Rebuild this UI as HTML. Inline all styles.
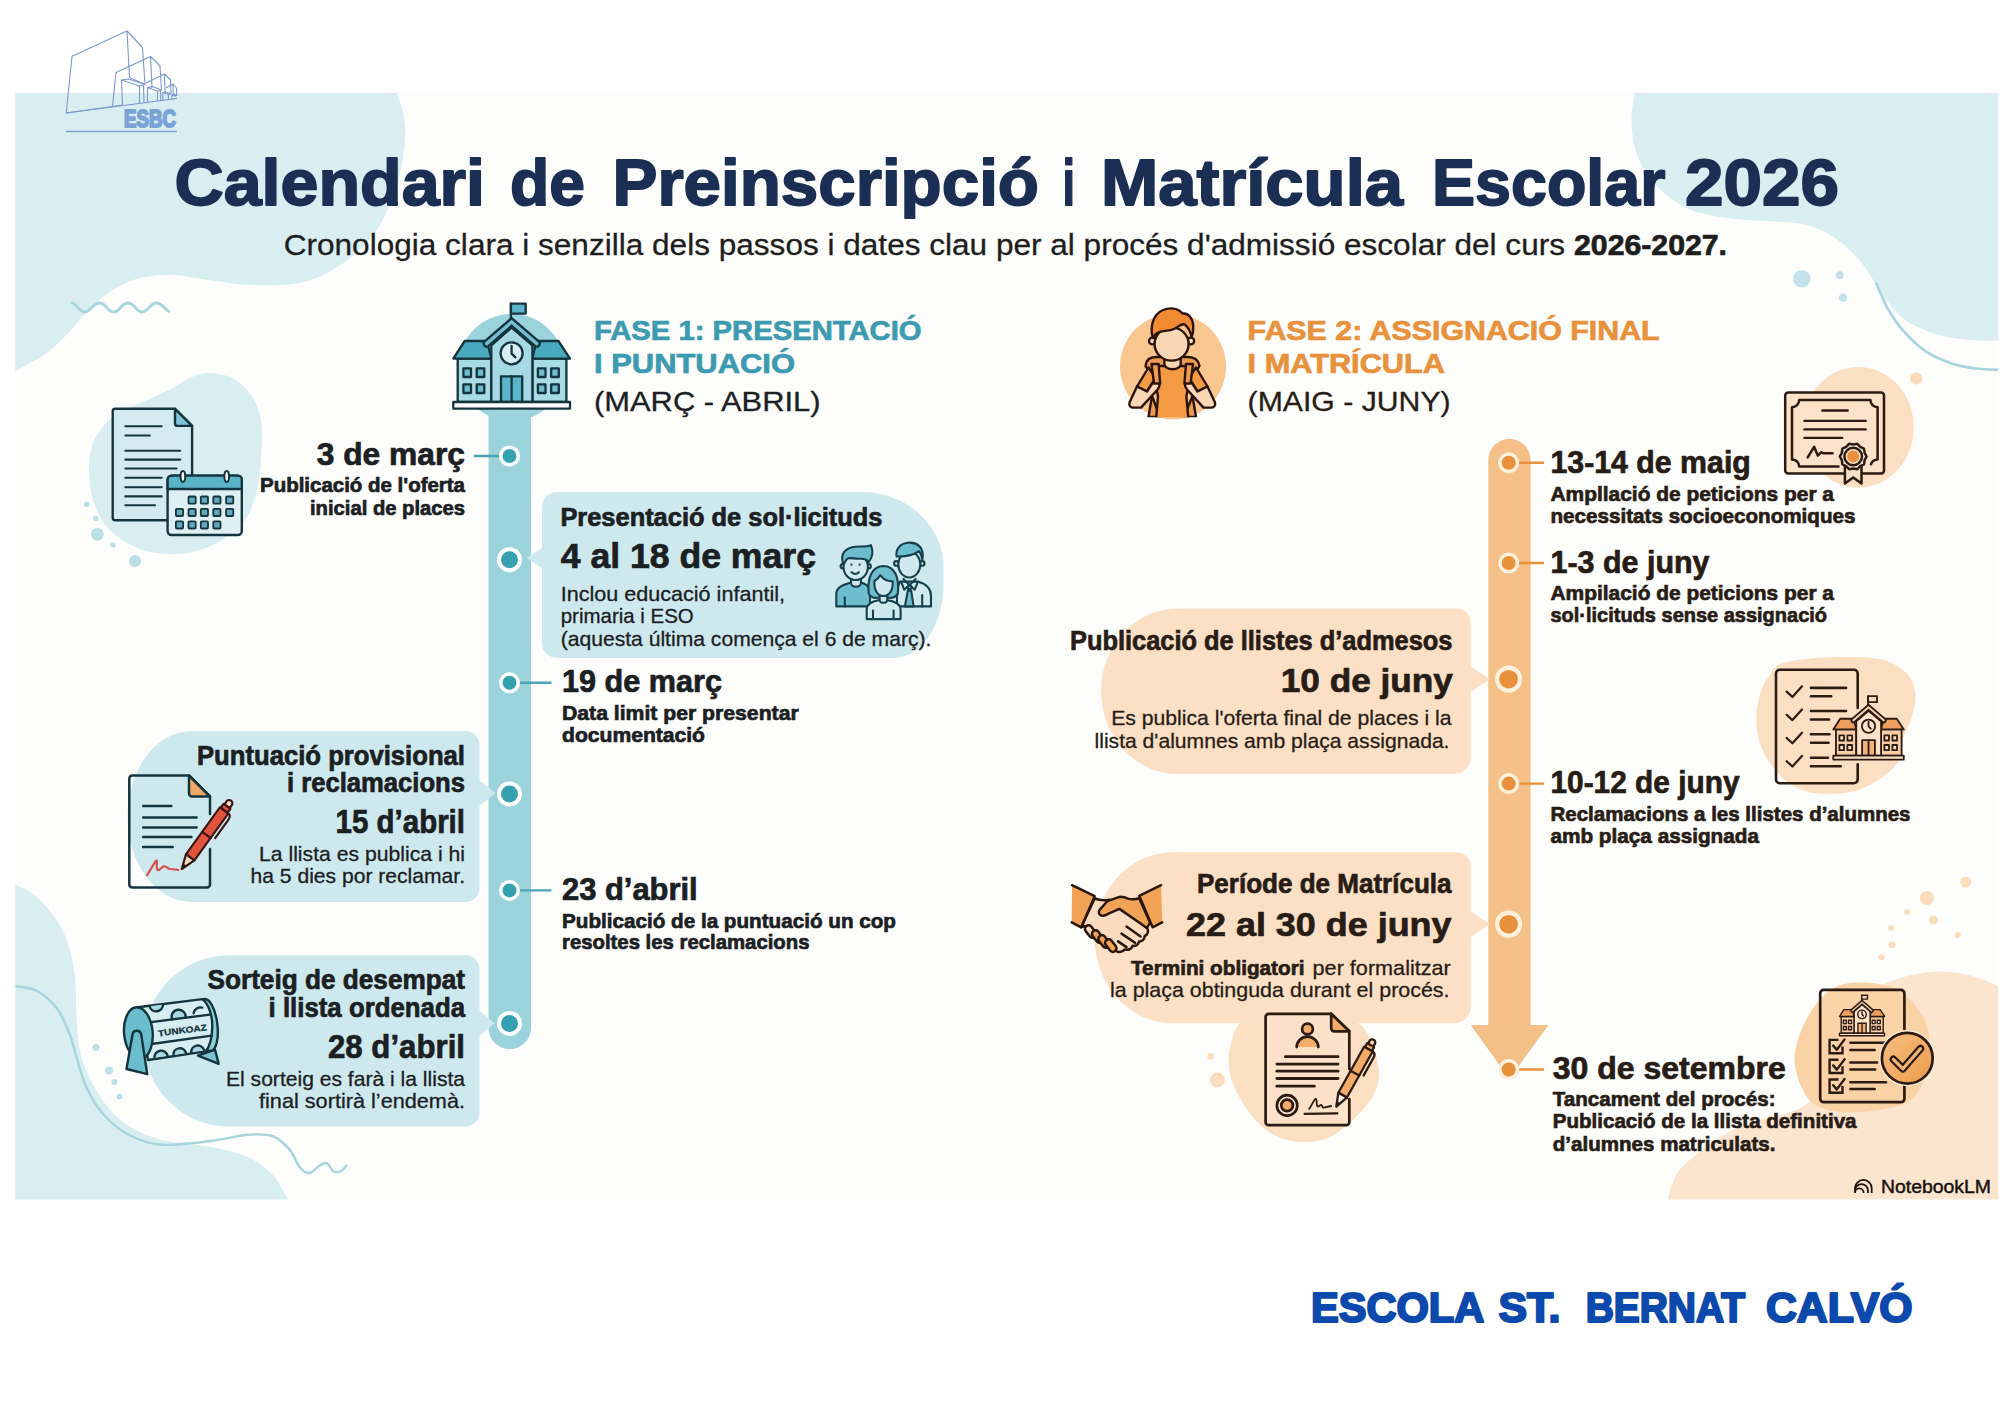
<!DOCTYPE html>
<html lang="ca">
<head>
<meta charset="utf-8">
<title>Calendari de Preinscripció i Matrícula Escolar 2026</title>
<style>
html,body{margin:0;padding:0;background:#ffffff;}
body{width:2000px;height:1414px;overflow:hidden;position:relative;}
svg{display:block;position:absolute;left:0;top:0;}
text{font-family:"Liberation Sans", "DejaVu Sans", sans-serif;}
.b{font-weight:700;}
</style>
</head>
<body>
<svg width="2000" height="1414" viewBox="0 0 2000 1414">
<defs><clipPath id="cp"><rect x="15.3" y="93" width="1982.9" height="1106.5"/></clipPath><linearGradient id="go" x1="0" y1="0" x2="1" y2="1"><stop offset="0" stop-color="#fce3c8"/><stop offset="1" stop-color="#f7c796"/></linearGradient></defs>
<g clip-path="url(#cp)">
<rect x="15.3" y="93" width="1982.9" height="1106.5" fill="#fdfdfb"/>

<path fill="#d8eef1" d="M396.0 80.0 C396.2 82.2 395.7 85.5 397.2 93.1 C398.7 100.6 404.6 112.4 405.2 125.3 C405.8 138.2 404.0 155.4 400.6 170.5 C397.2 185.6 391.2 203.0 384.8 215.8 C378.4 228.6 371.6 238.1 362.2 247.5 C352.8 256.9 339.5 266.4 328.2 272.4 C316.9 278.4 307.5 281.6 294.3 283.7 C281.1 285.8 264.1 285.6 249.0 284.8 C233.9 284.1 216.9 280.9 203.7 279.2 C190.5 277.5 181.1 274.7 169.8 274.7 C158.5 274.7 146.0 276.2 135.8 279.2 C125.6 282.2 116.9 287.1 108.6 292.8 C100.3 298.5 92.8 306.3 86.0 313.1 C79.2 319.9 74.7 326.7 67.9 333.5 C61.1 340.3 54.0 347.7 45.3 353.9 C36.5 360.1 22.9 366.9 15.4 370.9 C7.9 374.9 2.6 376.8 0.0 378.0 L0 80 Z"/>
<path fill="none" stroke="#a6d5dd" stroke-width="2.8" stroke-linecap="round" d="M72 303 C76 303 79 312 84.5 312 C91 312 93 303 99.6 303 C106 303 107.5 312 113.6 312 C120 312 121.5 303 127.9 303 C134.5 303 136 312 142 312 C148.5 312 150 303 156.2 303 C161.5 303 164 308 168.6 311.3"/>
<path fill="#d8eef1" d="M206.0 373.0 C213.3 372.8 224.5 374.4 232.0 378.0 C239.5 381.6 246.1 388.5 250.8 394.7 C255.5 400.9 258.1 407.6 260.0 415.0 C261.9 422.4 261.9 429.8 261.9 439.0 C261.9 448.2 261.1 460.1 260.0 470.0 C258.9 479.9 257.5 490.3 255.0 498.6 C252.5 506.9 249.4 513.8 245.0 520.0 C240.6 526.2 234.7 531.2 228.5 535.7 C222.3 540.2 215.4 544.0 208.0 547.0 C200.6 550.0 192.0 552.5 184.0 553.6 C176.0 554.7 167.4 554.3 160.0 553.5 C152.6 552.7 146.4 551.8 139.4 549.0 C132.4 546.2 124.2 541.7 118.0 537.0 C111.8 532.3 106.6 527.7 102.3 520.9 C98.0 514.1 94.2 504.6 92.0 496.0 C89.8 487.4 88.9 477.3 88.9 469.0 C88.9 460.7 89.8 452.9 92.0 446.0 C94.2 439.1 98.0 432.9 102.3 427.4 C106.6 421.9 111.8 417.0 118.0 413.0 C124.2 409.0 130.9 407.4 139.4 403.6 C147.9 399.8 160.9 394.1 169.0 390.0 C177.1 385.9 181.8 381.8 188.0 379.0 C194.2 376.2 198.7 373.2 206.0 373.0 Z"/>
<circle cx="86.7" cy="504.3" r="2.7" fill="#b9dfe7"/>
<circle cx="95.9" cy="518.4" r="2.7" fill="#b9dfe7"/>
<circle cx="97.4" cy="534.3" r="6.4" fill="#b9dfe7"/>
<circle cx="113" cy="545" r="2.6" fill="#b9dfe7"/>
<circle cx="135" cy="561" r="6" fill="#b9dfe7"/>
<path fill="#d8eef1" d="M15.3 884.8 C18.9 886.8 29.2 889.6 37.0 897.0 C44.8 904.4 55.8 916.9 62.0 929.3 C68.2 941.7 71.8 956.1 74.3 971.4 C76.8 986.7 75.5 1006.6 76.7 1021.0 C77.9 1035.4 78.0 1045.7 81.7 1058.0 C85.4 1070.3 92.0 1084.3 99.0 1095.0 C106.0 1105.7 113.5 1115.0 123.8 1122.4 C134.1 1129.9 146.6 1135.6 161.0 1139.7 C175.4 1143.8 196.0 1144.1 210.4 1147.0 C224.8 1149.9 237.2 1152.4 247.5 1157.0 C257.8 1161.6 265.5 1167.2 272.3 1174.4 C279.1 1181.6 285.7 1195.7 288.4 1200.0 L15 1200 L15 884 Z"/>
<path fill="none" stroke="#a6d4dc" stroke-width="2.4" stroke-linecap="round" d="M15.3 986.2 C18.9 987.0 30.1 987.3 37.0 991.0 C44.0 994.7 51.6 1001.5 57.0 1008.5 C62.4 1015.5 66.0 1025.0 69.3 1033.3 C72.6 1041.5 73.8 1048.9 76.7 1058.0 C79.6 1067.1 82.0 1078.2 86.6 1087.7 C91.1 1097.2 97.0 1107.2 104.0 1115.0 C111.0 1122.8 119.2 1129.8 128.7 1134.8 C138.2 1139.8 147.4 1143.7 161.0 1144.7 C174.6 1145.7 196.0 1142.7 210.4 1141.0 C224.8 1139.3 237.2 1135.6 247.5 1134.8 C257.8 1134.0 265.3 1133.5 272.3 1136.0 C279.3 1138.5 285.1 1144.4 289.6 1149.6 C294.1 1154.8 296.2 1163.1 299.5 1167.0 C302.8 1170.9 306.1 1173.2 309.4 1173.0 C312.7 1172.8 316.4 1167.3 319.3 1165.7 C322.2 1164.1 324.2 1162.2 326.7 1163.2 C329.2 1164.2 331.7 1170.8 334.2 1172.0 C336.7 1173.2 339.6 1171.6 341.6 1170.6 C343.7 1169.5 345.7 1166.5 346.5 1165.7"/>
<circle cx="96" cy="1047.6" r="3.5" fill="#b9dfe7"/>
<circle cx="109" cy="1070.4" r="4" fill="#b9dfe7"/>
<circle cx="114.4" cy="1082" r="3" fill="#b9dfe7"/>
<circle cx="119.6" cy="1096.6" r="3" fill="#b9dfe7"/>
<path fill="#d8eef1" d="M1636.0 80.0 C1635.7 82.2 1635.0 85.5 1634.3 93.1 C1633.6 100.6 1630.8 114.3 1631.6 125.3 C1632.3 136.3 1634.2 148.6 1638.8 159.2 C1643.4 169.8 1650.9 180.3 1659.2 188.6 C1667.5 196.9 1677.3 204.1 1688.6 209.0 C1699.9 213.9 1713.1 215.9 1727.1 218.0 C1741.1 220.1 1759.2 220.3 1772.4 221.4 C1785.6 222.5 1795.8 222.0 1806.3 224.8 C1816.8 227.6 1827.0 232.7 1835.7 238.4 C1844.4 244.1 1851.9 251.6 1858.3 258.8 C1864.7 266.0 1869.3 274.2 1874.2 281.4 C1879.1 288.6 1882.2 295.0 1887.8 301.8 C1893.4 308.6 1899.0 316.5 1908.1 322.1 C1917.1 327.8 1930.8 332.7 1942.1 335.7 C1953.4 338.7 1966.3 339.4 1976.0 340.2 C1985.7 341.0 1996.0 340.4 2000.0 340.4 L2000 80 Z"/>
<path fill="none" stroke="#a8d3df" stroke-width="2.7" stroke-linecap="round" d="M1876.4 283.7 C1878.3 287.9 1883.3 300.7 1887.8 308.6 C1892.3 316.5 1897.2 324.0 1903.6 331.2 C1910.0 338.4 1917.9 346.1 1926.2 351.6 C1934.5 357.1 1945.1 361.2 1953.4 364.0 C1961.7 366.8 1968.2 367.5 1976.0 368.5 C1983.8 369.5 1996.0 369.6 2000.0 369.8"/>
<circle cx="1801.8" cy="278.7" r="8.8" fill="#c3e2eb"/>
<circle cx="1839.8" cy="275.1" r="3.9" fill="#c3e2eb"/>
<circle cx="1843" cy="297.7" r="4.3" fill="#c3e2eb"/>
<circle cx="1173" cy="366.6" r="53" fill="#f9c690"/>
<ellipse cx="1858.3" cy="427.3" rx="55.4" ry="60.4" fill="#fbdfc3"/>
<circle cx="1916.4" cy="378.4" r="6.2" fill="#fbdbb8"/>
<path fill="#fbdfc2" d="M1781.8 663.5 C1788.9 661.0 1801.2 659.3 1813.6 658.2 C1826.0 657.1 1843.6 656.6 1856.0 657.1 C1868.4 657.6 1879.1 658.2 1887.9 661.4 C1896.8 664.6 1904.5 670.2 1909.1 676.2 C1913.7 682.2 1915.2 690.3 1915.5 697.4 C1915.8 704.5 1913.3 711.5 1911.2 718.6 C1909.1 725.7 1904.8 732.8 1902.7 739.9 C1900.6 747.0 1901.8 754.8 1898.5 761.0 C1895.2 767.2 1889.7 772.0 1882.6 777.0 C1875.5 782.0 1865.7 788.0 1856.0 790.8 C1846.3 793.6 1833.9 794.4 1824.2 794.0 C1814.5 793.6 1805.7 792.3 1797.7 788.6 C1789.8 784.9 1782.7 778.9 1776.5 771.7 C1770.3 764.5 1763.9 754.1 1760.6 745.2 C1757.2 736.4 1756.4 727.5 1756.4 718.6 C1756.4 709.8 1758.1 699.7 1760.6 692.1 C1763.1 684.5 1767.7 677.8 1771.2 673.0 C1774.7 668.2 1774.7 666.0 1781.8 663.5 Z"/>
<circle cx="1965.7" cy="882" r="5.5" fill="#fbdcbd"/>
<circle cx="1927" cy="898" r="7" fill="#fbdcbd"/>
<circle cx="1907" cy="912" r="3" fill="#fbdcbd"/>
<circle cx="1933.5" cy="920" r="4.5" fill="#fbdcbd"/>
<circle cx="1891" cy="928" r="3" fill="#fbdcbd"/>
<circle cx="1957.7" cy="935" r="3" fill="#fbdcbd"/>
<circle cx="1892" cy="944.8" r="3.5" fill="#fbdcbd"/>
<circle cx="1881.6" cy="957.2" r="3" fill="#fbdcbd"/>
<path fill="#fbe5cf" d="M2000 987 C1975 974 1950 969 1926 972.5 C1905 975 1885 982 1865 994 C1845 1008 1830 1040 1825 1070 C1822 1090 1815 1100 1800 1108 C1785 1116 1770 1116 1754.6 1121.4 C1735 1128 1720 1136 1706.8 1146.3 C1692 1158 1683 1165 1678 1172 C1672 1181 1670 1190 1668 1200 H2000 Z"/>
<path fill="#f9d2a6" d="M1859.6 982.5 C1848.5 982.5 1839.6 984.1 1831.0 989.7 C1822.4 995.4 1814.0 1005.6 1808.0 1016.4 C1802.0 1027.2 1795.7 1042.5 1794.7 1054.6 C1793.8 1066.7 1797.8 1080.1 1802.3 1089.0 C1806.8 1097.9 1811.9 1104.2 1821.4 1108.0 C1831.0 1111.8 1845.3 1112.9 1859.6 1111.9 C1873.9 1111.0 1896.2 1108.7 1907.4 1102.3 C1918.6 1095.9 1922.7 1083.2 1926.5 1073.7 C1930.3 1064.2 1930.6 1054.5 1930.0 1045.0 C1929.4 1035.5 1928.1 1025.6 1922.7 1016.4 C1917.3 1007.2 1908.3 995.4 1897.8 989.7 C1887.3 984.1 1870.7 982.5 1859.6 982.5 Z"/>
<path fill="#fbdfc3" d="M1245.2 1020.0 C1233.8 1026.0 1234.4 1033.7 1231.7 1040.9 C1229.0 1048.2 1228.4 1056.0 1228.8 1063.5 C1229.2 1071.0 1230.2 1077.7 1233.9 1086.2 C1237.6 1094.7 1244.3 1106.3 1250.9 1114.4 C1257.5 1122.5 1265.0 1130.2 1273.5 1134.8 C1282.0 1139.4 1292.4 1141.7 1301.8 1142.1 C1311.2 1142.5 1320.7 1141.7 1330.1 1137.1 C1339.5 1132.5 1350.9 1122.0 1358.4 1114.4 C1365.9 1106.9 1371.9 1099.3 1375.3 1091.8 C1378.7 1084.3 1379.3 1077.1 1378.7 1069.2 C1378.1 1061.3 1375.7 1052.2 1371.9 1044.3 C1368.1 1036.4 1368.1 1028.5 1356.1 1022.0 C1344.1 1015.5 1318.5 1005.3 1300.0 1005.0 C1281.5 1004.7 1256.6 1014.0 1245.2 1020.0 Z"/>
<circle cx="1210.7" cy="1056.2" r="3.2" fill="#fbdcbd"/>
<circle cx="1217.5" cy="1080" r="7.4" fill="#fbdcbd"/>
</g>
<circle cx="511.6" cy="367.5" r="53.5" fill="#9bd3dd"/>
<path fill="#9bd3dd" d="M488.5 362 H531 V1028 a21 21 0 0 1 -21 21 h-0.5 a21 21 0 0 1 -21 -21 Z"/>
<path fill="#cde9ee" d="M557 492 H862 a81.5 75 0 0 1 81.5 75 V584 a50 74 0 0 1 -50 74 H557 a15 15 0 0 1 -15 -15 V568 L526.6 558 L542 548 V507 a15 15 0 0 1 15 -15 Z"/>
<path fill="#cde9ee" d="M191.6 731 H465.5 a14 14 0 0 1 14 14 V780.5 L495.6 793 L479.5 805.8 V888 a14 14 0 0 1 -14 14 H191.6 a64 85.5 0 0 1 0 -171 Z"/>
<path fill="#cde9ee" d="M229.4 955.3 H465.5 a14 14 0 0 1 14 14 V1010.5 L494.6 1023.2 L479.5 1035.8 V1112.6 a14 14 0 0 1 -14 14 H229.4 a85.7 85.65 0 0 1 0 -171.3 Z"/>
<line x1="474" y1="456" x2="508" y2="456" stroke="#4ba3b6" stroke-width="2.4"/>
<line x1="510" y1="682.8" x2="551.5" y2="682.8" stroke="#4ba3b6" stroke-width="2.4"/>
<line x1="510" y1="890.4" x2="551.5" y2="890.4" stroke="#4ba3b6" stroke-width="2.4"/>
<circle cx="509.5" cy="456" r="10.5" fill="#ffffff"/><circle cx="509.5" cy="456" r="7" fill="#35a0b0"/>
<circle cx="509.5" cy="559.7" r="12.5" fill="#ffffff"/><circle cx="509.5" cy="559.7" r="8.5" fill="#35a0b0"/>
<circle cx="509.5" cy="682.8" r="10.5" fill="#ffffff"/><circle cx="509.5" cy="682.8" r="7" fill="#35a0b0"/>
<circle cx="509.5" cy="794" r="12.5" fill="#ffffff"/><circle cx="509.5" cy="794" r="8.5" fill="#35a0b0"/>
<circle cx="509.5" cy="890.4" r="10.5" fill="#ffffff"/><circle cx="509.5" cy="890.4" r="7" fill="#35a0b0"/>
<circle cx="509.5" cy="1023.4" r="12.5" fill="#ffffff"/><circle cx="509.5" cy="1023.4" r="8.5" fill="#35a0b0"/>
<path fill="#f5c088" d="M1488.3 460 a21.15 21.15 0 0 1 42.3 0 V1025 H1548.5 L1509.4 1079 L1470.7 1025 H1488.3 Z"/>
<path fill="#fce0c5" d="M1177.5 608.4 H1456.7 a14 14 0 0 1 14 14 V666.5 L1489.8 679.2 L1470.7 692 V758 a16 16 0 0 1 -16 16 H1177.5 a76.5 82.8 0 0 1 0 -165.6 Z"/>
<path fill="#fce0c5" d="M1172.4 852.3 H1456.7 a14 14 0 0 1 14 14 V911.5 L1489.8 924.2 L1470.7 937 V1007.2 a16 16 0 0 1 -16 16 H1172.4 a77.8 85.45 0 0 1 0 -170.9 Z"/>
<line x1="1509" y1="462.8" x2="1544" y2="462.8" stroke="#e8903a" stroke-width="2.4"/>
<line x1="1509" y1="563" x2="1544" y2="563" stroke="#e8903a" stroke-width="2.4"/>
<line x1="1509" y1="783.6" x2="1544" y2="783.6" stroke="#e8903a" stroke-width="2.4"/>
<line x1="1509" y1="1069.5" x2="1544" y2="1069.5" stroke="#e8903a" stroke-width="2.4"/>
<circle cx="1508.7" cy="462.8" r="10.5" fill="#fdf0dd"/><circle cx="1508.7" cy="462.8" r="7" fill="#e8903a"/>
<circle cx="1508.7" cy="563" r="10.5" fill="#fdf0dd"/><circle cx="1508.7" cy="563" r="7" fill="#e8903a"/>
<circle cx="1508.6" cy="679.2" r="13.6" fill="#fdf0dd"/><circle cx="1508.6" cy="679.2" r="9.3" fill="#e8903a"/>
<circle cx="1508.7" cy="783.6" r="10.5" fill="#fdf0dd"/><circle cx="1508.7" cy="783.6" r="7" fill="#e8903a"/>
<circle cx="1508.6" cy="924.2" r="13.6" fill="#fdf0dd"/><circle cx="1508.6" cy="924.2" r="9.3" fill="#e8903a"/>
<circle cx="1508.7" cy="1069.5" r="10.5" fill="#fdf0dd"/><circle cx="1508.7" cy="1069.5" r="7" fill="#e8903a"/>
<g transform="translate(453.3 302) scale(1) translate(-453.3 -302)"><rect x="457.7" y="358.6" width="33.6" height="43.4" fill="#a9dbe5" stroke="#14343e" stroke-width="2.3" stroke-linejoin="round" stroke-linecap="round"/><rect x="532.4" y="358.6" width="34" height="43.4" fill="#a9dbe5" stroke="#14343e" stroke-width="2.3" stroke-linejoin="round" stroke-linecap="round"/><polygon points="453.3,358.6 464.7,341 487,341 491.3,358.6" fill="#4aa9bf" stroke="#14343e" stroke-width="2.3" stroke-linejoin="round" stroke-linecap="round"/><polygon points="532.4,358.6 536.5,341 558.4,341 570,358.6" fill="#4aa9bf" stroke="#14343e" stroke-width="2.3" stroke-linejoin="round" stroke-linecap="round"/><polygon points="491.3,402 491.3,345.4 511.6,327.7 532.4,345.4 532.4,402" fill="#a6d9e4" stroke="#14343e" stroke-width="2.3" stroke-linejoin="round" stroke-linecap="round"/><line x1="510.9" y1="322" x2="510.9" y2="303.6" stroke="#14343e" stroke-width="2.3" stroke-linejoin="round" stroke-linecap="round"/><rect x="510.9" y="303.6" width="14.8" height="10" fill="#5ab3c7" stroke="#14343e" stroke-width="2.3" stroke-linejoin="round" stroke-linecap="round"/><polyline points="486.6,343.6 511.6,322 536.8,343.6" fill="none" stroke="#14343e" stroke-width="8.2" stroke-linejoin="miter" stroke-linecap="round"/><polyline points="486.6,343.6 511.6,322 536.8,343.6" fill="none" stroke="#74bfd0" stroke-width="3.4" stroke-linejoin="miter" stroke-linecap="round"/><circle cx="511.6" cy="353.3" r="11" fill="#d8eef3" stroke="#14343e" stroke-width="2.3" stroke-linejoin="round" stroke-linecap="round"/><polyline points="511.6,346 511.6,353.6 515.4,357.4" fill="none" stroke="#14343e" stroke-width="2.3" stroke-linejoin="round" stroke-linecap="round"/><rect x="501" y="376.3" width="21.2" height="25.7" fill="#5ab5c9" stroke="#14343e" stroke-width="2.3" stroke-linejoin="round" stroke-linecap="round"/><line x1="511.6" y1="376.3" x2="511.6" y2="402" stroke="#14343e" stroke-width="2.3" stroke-linejoin="round" stroke-linecap="round"/><rect x="463.4" y="368.4" width="7.6" height="8.6" fill="#6dbccc" stroke="#14343e" stroke-width="2.3" stroke-linejoin="round" stroke-linecap="round"/><rect x="463.4" y="384.4" width="7.6" height="8.6" fill="#6dbccc" stroke="#14343e" stroke-width="2.3" stroke-linejoin="round" stroke-linecap="round"/><rect x="476.7" y="368.4" width="7.6" height="8.6" fill="#6dbccc" stroke="#14343e" stroke-width="2.3" stroke-linejoin="round" stroke-linecap="round"/><rect x="476.7" y="384.4" width="7.6" height="8.6" fill="#6dbccc" stroke="#14343e" stroke-width="2.3" stroke-linejoin="round" stroke-linecap="round"/><rect x="537.9" y="368.4" width="7.6" height="8.6" fill="#6dbccc" stroke="#14343e" stroke-width="2.3" stroke-linejoin="round" stroke-linecap="round"/><rect x="537.9" y="384.4" width="7.6" height="8.6" fill="#6dbccc" stroke="#14343e" stroke-width="2.3" stroke-linejoin="round" stroke-linecap="round"/><rect x="551.2" y="368.4" width="7.6" height="8.6" fill="#6dbccc" stroke="#14343e" stroke-width="2.3" stroke-linejoin="round" stroke-linecap="round"/><rect x="551.2" y="384.4" width="7.6" height="8.6" fill="#6dbccc" stroke="#14343e" stroke-width="2.3" stroke-linejoin="round" stroke-linecap="round"/><rect x="453.3" y="402" width="116.7" height="6.6" fill="#ffffff" stroke="#14343e" stroke-width="2.3" stroke-linejoin="round" stroke-linecap="round"/></g>
<g><path d="M115.2 408.8 H175 L192.1 425.9 V517.7 a2.5 2.5 0 0 1 -2.5 2.5 H115.2 a2.5 2.5 0 0 1 -2.5 -2.5 V411.3 a2.5 2.5 0 0 1 2.5 -2.5 Z" fill="#d3ebf0" stroke="#14343e" stroke-width="2.4" stroke-linejoin="round" stroke-linecap="round"/><path d="M175 408.8 V423.4 a2.5 2.5 0 0 0 2.5 2.5 H192.1 Z" fill="#7fc4d4" stroke="#14343e" stroke-width="2.4" stroke-linejoin="round" stroke-linecap="round"/><line x1="125.3" y1="426.3" x2="161.7" y2="426.3" stroke="#14343e" stroke-width="2.1" stroke-linecap="round"/><line x1="125.3" y1="435.5" x2="149.8" y2="435.5" stroke="#14343e" stroke-width="2.1" stroke-linecap="round"/><line x1="125.3" y1="450.8" x2="180.2" y2="450.8" stroke="#14343e" stroke-width="2.1" stroke-linecap="round"/><line x1="125.3" y1="459.6" x2="180.2" y2="459.6" stroke="#14343e" stroke-width="2.1" stroke-linecap="round"/><line x1="125.3" y1="468.5" x2="176.5" y2="468.5" stroke="#14343e" stroke-width="2.1" stroke-linecap="round"/><line x1="125.3" y1="477.8" x2="161.7" y2="477.8" stroke="#14343e" stroke-width="2.1" stroke-linecap="round"/><line x1="125.3" y1="487.2" x2="161.7" y2="487.2" stroke="#14343e" stroke-width="2.1" stroke-linecap="round"/><line x1="125.3" y1="496.4" x2="161.7" y2="496.4" stroke="#14343e" stroke-width="2.1" stroke-linecap="round"/><line x1="125.3" y1="505.3" x2="155" y2="505.3" stroke="#14343e" stroke-width="2.1" stroke-linecap="round"/><rect x="167.6" y="475.6" width="74.2" height="59.4" rx="4" fill="#dff0f4" stroke="#14343e" stroke-width="2.4" stroke-linejoin="round" stroke-linecap="round"/><path d="M167.6 489 V479.6 a4 4 0 0 1 4 -4 H237.8 a4 4 0 0 1 4 4 V489 Z" fill="#5ab3c6" stroke="#14343e" stroke-width="2.4" stroke-linejoin="round" stroke-linecap="round"/><ellipse cx="182.9" cy="476.5" rx="2.3" ry="5.4" fill="#ffffff" stroke="#14343e" stroke-width="2"/><ellipse cx="226.7" cy="476.5" rx="2.3" ry="5.4" fill="#ffffff" stroke="#14343e" stroke-width="2"/><rect x="188.5" y="496.5" width="7.2" height="7.2" rx="1" fill="#62aaba" stroke="#14343e" stroke-width="1.8"/><rect x="200.8" y="496.5" width="7.2" height="7.2" rx="1" fill="#62aaba" stroke="#14343e" stroke-width="1.8"/><rect x="213.3" y="496.5" width="7.2" height="7.2" rx="1" fill="#62aaba" stroke="#14343e" stroke-width="1.8"/><rect x="226.1" y="496.5" width="7.2" height="7.2" rx="1" fill="#62aaba" stroke="#14343e" stroke-width="1.8"/><rect x="175.9" y="508.8" width="7.2" height="7.2" rx="1" fill="#62aaba" stroke="#14343e" stroke-width="1.8"/><rect x="188.5" y="508.8" width="7.2" height="7.2" rx="1" fill="#62aaba" stroke="#14343e" stroke-width="1.8"/><rect x="200.8" y="508.8" width="7.2" height="7.2" rx="1" fill="#62aaba" stroke="#14343e" stroke-width="1.8"/><rect x="213.3" y="508.8" width="7.2" height="7.2" rx="1" fill="#62aaba" stroke="#14343e" stroke-width="1.8"/><rect x="226.1" y="508.8" width="7.2" height="7.2" rx="1" fill="#62aaba" stroke="#14343e" stroke-width="1.8"/><rect x="175.9" y="521.3" width="7.2" height="7.2" rx="1" fill="#62aaba" stroke="#14343e" stroke-width="1.8"/><rect x="188.5" y="521.3" width="7.2" height="7.2" rx="1" fill="#62aaba" stroke="#14343e" stroke-width="1.8"/><rect x="200.8" y="521.3" width="7.2" height="7.2" rx="1" fill="#62aaba" stroke="#14343e" stroke-width="1.8"/><rect x="213.3" y="521.3" width="7.2" height="7.2" rx="1" fill="#62aaba" stroke="#14343e" stroke-width="1.8"/></g>
<g><path d="M836.3 606.4 V594 C836.3 588 841 585.5 851 582.6 L861 582.6 C866 584 868 586 870 589 V606.4 Z" fill="#6dbdce" stroke="#16404b" stroke-width="2.1" stroke-linejoin="round" stroke-linecap="round"/><line x1="844.8" y1="597.2" x2="844.8" y2="606.4" stroke="#16404b" stroke-width="2.1" stroke-linejoin="round" stroke-linecap="round"/><path d="M851 577 V583 a5 3.6 0 0 0 10 0 V577 Z" fill="#cfe9ee" stroke="#16404b" stroke-width="2.1" stroke-linejoin="round" stroke-linecap="round"/><circle cx="842.8" cy="566.2" r="2.2" fill="#cfe9ee" stroke="#16404b" stroke-width="2.1" stroke-linejoin="round" stroke-linecap="round"/><circle cx="868.6" cy="566.2" r="2.2" fill="#cfe9ee" stroke="#16404b" stroke-width="2.1" stroke-linejoin="round" stroke-linecap="round"/><ellipse cx="855.7" cy="567" rx="12.2" ry="13" fill="#cfe9ee" stroke="#16404b" stroke-width="2.1" stroke-linejoin="round" stroke-linecap="round"/><path d="M843.6 565 C840.5 557 842 550 852 547.2 C858 545.6 866 547.6 870.9 545.2 C873.5 551 872.5 557 868.8 562 C867 559.5 864 558.6 860 558.8 C855 559 851 557.6 848.3 558.3 C846 559 845 562 843.6 565 Z" fill="#6dbdce" stroke="#16404b" stroke-width="2.1" stroke-linejoin="round" stroke-linecap="round"/><circle cx="851.5" cy="564.7" r="1.1" fill="#16404b"/><circle cx="859.6" cy="564.7" r="1.1" fill="#16404b"/><path d="M851.5 572.2 Q855.2 575.8 858.9 572.2" fill="none" stroke="#16404b" stroke-width="2.1" stroke-linejoin="round" stroke-linecap="round"/><path d="M897 606.4 V589 L900 581.6 L918 581.6 C926 584 931 588.5 931 596 V606.4 Z" fill="#cfe9ee" stroke="#16404b" stroke-width="2.1" stroke-linejoin="round" stroke-linecap="round"/><line x1="922.2" y1="595" x2="922.2" y2="606.4" stroke="#16404b" stroke-width="2.1" stroke-linejoin="round" stroke-linecap="round"/><path d="M903.4 579 L909.5 585.2 L915.6 579" fill="none" stroke="#16404b" stroke-width="2.1" stroke-linejoin="round" stroke-linecap="round"/><path d="M901.2 581.8 L904.2 589.6 L909.5 585.2 L914.8 589.6 L917.8 581.8" fill="none" stroke="#16404b" stroke-width="2.1" stroke-linejoin="round" stroke-linecap="round"/><path d="M909.5 584.6 L912 587.3 L909.5 590 L907 587.3 Z" fill="#6dbdce" stroke="#16404b" stroke-width="2.1" stroke-linejoin="round" stroke-linecap="round"/><path d="M907.8 590.6 L904.9 606.4 H913.6 L911.2 590.6 Z" fill="#6dbdce" stroke="#16404b" stroke-width="2.1" stroke-linejoin="round" stroke-linecap="round"/><circle cx="896.4" cy="563.4" r="2.3" fill="#cfe9ee" stroke="#16404b" stroke-width="2.1" stroke-linejoin="round" stroke-linecap="round"/><circle cx="922.2" cy="563.4" r="2.3" fill="#cfe9ee" stroke="#16404b" stroke-width="2.1" stroke-linejoin="round" stroke-linecap="round"/><ellipse cx="909.3" cy="564.5" rx="11" ry="13" fill="#cfe9ee" stroke="#16404b" stroke-width="2.1" stroke-linejoin="round" stroke-linecap="round"/><path d="M896.6 556.5 C895.5 549 900 543.4 908 542.7 C917 542 922.6 547 922.8 555 L922.4 560 C921.5 556 920.5 553 919 551.2 C913 555.5 904 556.8 896.6 556.5 Z" fill="#6dbdce" stroke="#16404b" stroke-width="2.1" stroke-linejoin="round" stroke-linecap="round"/><path d="M868.8 594 C867 578 872 566.2 883.4 566 C895 566.2 899.6 578 897.8 594 C895 597.5 891 598.4 888 597.6 L878.6 597.6 C875 598.4 871 597.4 868.8 594 Z" fill="#6dbdce" stroke="#16404b" stroke-width="2.1" stroke-linejoin="round" stroke-linecap="round"/><path d="M866.7 619.1 V609.5 C866.7 604 871 601.6 879.6 600 L887 600 C896 601.6 900.6 604 900.6 609.5 V619.1 Z" fill="#cfe9ee" stroke="#16404b" stroke-width="2.1" stroke-linejoin="round" stroke-linecap="round"/><line x1="873" y1="610.6" x2="873" y2="619.1" stroke="#16404b" stroke-width="2.1" stroke-linejoin="round" stroke-linecap="round"/><line x1="893.6" y1="610.6" x2="893.6" y2="619.1" stroke="#16404b" stroke-width="2.1" stroke-linejoin="round" stroke-linecap="round"/><path d="M879.6 595.5 V600.2 a3.8 2.6 0 0 0 7.6 0 V595.5 Z" fill="#cfe9ee" stroke="#16404b" stroke-width="2.1" stroke-linejoin="round" stroke-linecap="round"/><path d="M874.5 581 C877 579.4 879 577.5 880.2 575.2 C883.5 579.6 888.5 581.6 892.6 581.2 C893.4 589.5 889.5 596 883.4 596 C877.5 596 873.6 589.5 874.5 581 Z" fill="#cfe9ee" stroke="#16404b" stroke-width="2.1" stroke-linejoin="round" stroke-linecap="round"/></g>
<g><path d="M210 814 V796.5 L189 775.5 H132.3 a3 3 0 0 0 -3 3 V884.6 a3 3 0 0 0 3 3 H207 a3 3 0 0 0 3 -3 V849" fill="none" stroke="#14343e" stroke-width="2.5" stroke-linejoin="round" stroke-linecap="round"/><path d="M189 775.5 V793.5 a3 3 0 0 0 3 3 H210 Z" fill="#f0a868" stroke="#14343e" stroke-width="2.5" stroke-linejoin="round" stroke-linecap="round"/><line x1="143.2" y1="806" x2="171.3" y2="806" stroke="#14343e" stroke-width="2.5" stroke-linecap="round"/><line x1="143.2" y1="817.5" x2="196.6" y2="817.5" stroke="#14343e" stroke-width="2.5" stroke-linecap="round"/><line x1="143.2" y1="827.5" x2="196.6" y2="827.5" stroke="#14343e" stroke-width="2.5" stroke-linecap="round"/><line x1="143.2" y1="837" x2="191.4" y2="837" stroke="#14343e" stroke-width="2.5" stroke-linecap="round"/><line x1="143.2" y1="847.1" x2="172.7" y2="847.1" stroke="#14343e" stroke-width="2.5" stroke-linecap="round"/><path d="M147 875.2 C150 871 154.5 862 156.3 860.6 C158 860 155.5 869 157.6 870 C160 870.6 162.5 865.6 164.8 866.2 C167 866.8 168 869 170.5 869 C173 869 175 869.6 178.5 870" fill="none" stroke="#d4524c" stroke-width="2.2" stroke-linecap="round" stroke-linejoin="round"/><g transform="translate(181.8 869) rotate(-54.19)"><path d="M72.3 5.2 C72.3 9.0 69.0 9.0 66.4 9.0 H44.6" fill="none" stroke="#3a1612" stroke-width="2.2" stroke-linejoin="round" stroke-linecap="round"/><path d="M77.4 -3.2 H81.0 a3.2 3.2 0 0 1 0 6.4 H77.4 Z" fill="#f6dcc6" stroke="#3a1612" stroke-width="2.2" stroke-linejoin="round" stroke-linecap="round"/><rect x="72.3" y="-4.3" width="5.0" height="8.5" fill="#e2533f" stroke="#3a1612" stroke-width="2.2" stroke-linejoin="round" stroke-linecap="round"/><rect x="14.3" y="-5.2" width="58.0" height="10.4" fill="#e2533f" stroke="#3a1612" stroke-width="2.2" stroke-linejoin="round" stroke-linecap="round"/><line x1="42.0" y1="-5.2" x2="42.0" y2="5.2" stroke="#3a1612" stroke-width="2.2" stroke-linejoin="round" stroke-linecap="round"/><path d="M14.3 -5.2 L0 0 L14.3 5.2 Z" fill="#f3dcc8" stroke="#3a1612" stroke-width="2.2" stroke-linejoin="round" stroke-linecap="round"/><path d="M5.4 -2.0 L0 0 L5.4 2.0 Z" fill="#3a1612" stroke="none"/></g></g>
<g><polygon points="197.9,1055.6 215,1049.6 218.7,1063.8" fill="#7cc4d3" stroke="#14343e" stroke-width="2.4" stroke-linejoin="round" stroke-linecap="round"/><ellipse cx="207.6" cy="1025" rx="9.8" ry="26.2" transform="rotate(-7 207.6 1025)" fill="#8fcdd9" stroke="#14343e" stroke-width="2.4" stroke-linejoin="round" stroke-linecap="round"/><path d="M137.7 1007.3 L202.3 999.1 C209 1004 212.5 1016 212.3 1027 C212 1038 209.6 1047 205.6 1051.4 L148.1 1060 Z" fill="#d6edf1" stroke="#14343e" stroke-width="2.4" stroke-linejoin="round" stroke-linecap="round"/><path d="M149.6 1006.2 a6.8 6.8 0 0 0 13.4 -1.6" fill="#a9d9e3" stroke="#14343e" stroke-width="2.4" stroke-linejoin="round" stroke-linecap="round"/><path d="M172.2 1019.4 a7 7 0 1 1 13.4 -1.8" fill="#a9d9e3" stroke="#14343e" stroke-width="2.4" stroke-linejoin="round" stroke-linecap="round"/><path d="M193.6 1013.2 a7 7 0 0 1 8.6 -5.6" fill="none" stroke="#14343e" stroke-width="2.4" stroke-linejoin="round" stroke-linecap="round"/><path d="M154.4 1057.8 a6.7 6.7 0 0 1 13.2 -2" fill="#a9d9e3" stroke="#14343e" stroke-width="2.4" stroke-linejoin="round" stroke-linecap="round"/><path d="M173.4 1055 a6.4 6.4 0 0 1 12.6 -1.9" fill="#a9d9e3" stroke="#14343e" stroke-width="2.4" stroke-linejoin="round" stroke-linecap="round"/><path d="M191.2 1052.3 a6.6 6.6 0 0 1 12.8 -2.4" fill="#a9d9e3" stroke="#14343e" stroke-width="2.4" stroke-linejoin="round" stroke-linecap="round"/><line x1="151.1" y1="1022.1" x2="209.8" y2="1014.6" stroke="#14343e" stroke-width="2.4" stroke-linejoin="round" stroke-linecap="round"/><line x1="153.3" y1="1043.7" x2="211.6" y2="1035.6" stroke="#14343e" stroke-width="2.4" stroke-linejoin="round" stroke-linecap="round"/><ellipse cx="138.4" cy="1033" rx="14.3" ry="25.8" transform="rotate(-5 138.4 1033)" fill="#6bbccd" stroke="#14343e" stroke-width="2.4" stroke-linejoin="round" stroke-linecap="round"/><path d="M126.5 1069 L132.6 1034 a4.4 4.4 0 0 1 8.6 0.4 L147.3 1074.2 Z" fill="#6bbccd" stroke="#14343e" stroke-width="2.4" stroke-linejoin="round" stroke-linecap="round"/></g>
<g><defs><clipPath id="stc"><rect x="1120" y="300" width="110" height="117.2"/></clipPath></defs><g clip-path="url(#stc)"><path d="M1145.5 366 C1146 360 1150 357 1156 357 H1188 C1194 357 1198.5 360 1199.5 366 L1196 372 H1149 Z" fill="#ee9a52" stroke="#2a140a" stroke-width="2.4" stroke-linejoin="round" stroke-linecap="round"/><path d="M1152 396 L1148.5 417 H1160 Z" fill="#ee9a52" stroke="#2a140a" stroke-width="2.4" stroke-linejoin="round" stroke-linecap="round"/><path d="M1192.5 396 L1196 417 H1184 Z" fill="#ee9a52" stroke="#2a140a" stroke-width="2.4" stroke-linejoin="round" stroke-linecap="round"/><path d="M1158 366 H1186.5 L1190 380 L1186.4 396 L1188.5 420 H1156 L1158 396 L1154.5 380 Z" fill="#f39a43" stroke="#2a140a" stroke-width="2.4" stroke-linejoin="round" stroke-linecap="round"/><path d="M1148.5 367.5 L1137 386.5 L1147 391.5 L1155.5 378 Z" fill="#f39a43" stroke="#2a140a" stroke-width="2.4" stroke-linejoin="round" stroke-linecap="round"/><path d="M1196 367.5 L1207.5 386.5 L1197.5 391.5 L1189 378 Z" fill="#f39a43" stroke="#2a140a" stroke-width="2.4" stroke-linejoin="round" stroke-linecap="round"/><path d="M1137 386.5 L1129.5 402.5 C1128.5 406 1131 408 1134 407.6 L1141 407.6 L1157.6 389.5 C1160.5 386 1160 382.5 1156.5 382 L1152.5 383 L1147 391.5 Z" fill="#f9d6b4" stroke="#2a140a" stroke-width="2.4" stroke-linejoin="round" stroke-linecap="round"/><path d="M1207.5 386.5 L1215 402.5 C1216 406 1213.5 408 1210.5 407.6 L1203.5 407.6 L1187 389.5 C1184 386 1184.5 382.5 1188 382 L1192 383 L1197.5 391.5 Z" fill="#f9d6b4" stroke="#2a140a" stroke-width="2.4" stroke-linejoin="round" stroke-linecap="round"/><path d="M1151.5 364 H1158.6 L1160.2 383.5 H1154 Z" fill="#ee9a52" stroke="#2a140a" stroke-width="2.4" stroke-linejoin="round" stroke-linecap="round"/><path d="M1193 364 H1186 L1184.4 383.5 H1190.6 Z" fill="#ee9a52" stroke="#2a140a" stroke-width="2.4" stroke-linejoin="round" stroke-linecap="round"/></g><path d="M1164.4 357 V364 a8.1 5.2 0 0 0 16.3 0 V357 Z" fill="#f9d6b4" stroke="#2a140a" stroke-width="2.4" stroke-linejoin="round" stroke-linecap="round"/><circle cx="1152.4" cy="341" r="3.4" fill="#f9d6b4" stroke="#2a140a" stroke-width="2.4" stroke-linejoin="round" stroke-linecap="round"/><circle cx="1190.8" cy="341" r="3.4" fill="#f9d6b4" stroke="#2a140a" stroke-width="2.4" stroke-linejoin="round" stroke-linecap="round"/><ellipse cx="1171.6" cy="344" rx="17" ry="16.6" fill="#f9d6b4" stroke="#2a140a" stroke-width="2.4" stroke-linejoin="round" stroke-linecap="round"/><path d="M1152.6 337.5 C1150 326 1153 314.5 1163 310 C1170 307 1178 308 1182.6 313.6 C1188.5 313 1192.5 318 1193.2 325.5 C1193.6 330 1193 334 1191.6 337.4 C1190.5 331.5 1188 327 1184.6 324.4 C1181.5 323.5 1179 326.5 1174 329 C1169 331.4 1163.5 330.4 1159.6 331.8 C1156 333 1154.4 335.5 1152.6 337.5 Z" fill="#f18a31" stroke="#2a140a" stroke-width="2.4" stroke-linejoin="round" stroke-linecap="round"/></g>
<g><rect x="1785.2" y="392.6" width="98.8" height="80.9" rx="3" fill="#fbe2c8" stroke="#2c1b12" stroke-width="2.5" stroke-linejoin="round" stroke-linecap="round"/><path d="M1838.5 466.6 H1799.2 a7.2 7.2 0 0 0 -7.2 -7.2 V407.2 a7.2 7.2 0 0 0 7.2 -7.2 H1870.3999999999999 a7.2 7.2 0 0 0 7.2 7.2 V459.40000000000003 a7.2 7.2 0 0 0 -6.6000000000000005 4.800000000000001" fill="none" stroke="#2c1b12" stroke-width="2.5" stroke-linejoin="round" stroke-linecap="round"/><line x1="1822.4" y1="410.5" x2="1847.7" y2="410.5" stroke="#2c1b12" stroke-width="2.4" stroke-linecap="round"/><line x1="1804.5" y1="420.9" x2="1865.6" y2="420.9" stroke="#2c1b12" stroke-width="2.4" stroke-linecap="round"/><line x1="1804.5" y1="429.4" x2="1865.6" y2="429.4" stroke="#2c1b12" stroke-width="2.4" stroke-linecap="round"/><line x1="1804.5" y1="437.9" x2="1842.2" y2="437.9" stroke="#2c1b12" stroke-width="2.4" stroke-linecap="round"/><path d="M1807.7 457.4 L1814.1 446.8 L1817.8 455.6 L1821.3 452.2 C1823 453.6 1824 453.4 1825.2 453.3 H1832.5" fill="none" stroke="#2c1b12" stroke-width="2.5" stroke-linejoin="round" stroke-linecap="round"/><path d="M1844.9 466 V483.6 L1853.2 477.6 L1861.5 483.6 V466 Z" fill="#f5e0c8" stroke="#2c1b12" stroke-width="2.5" stroke-linejoin="round" stroke-linecap="round"/><path d="M1866.6 456.5 L1864.6 460.2 L1864.0 464.4 L1860.3 466.2 L1857.3 469.2 L1853.2 468.5 L1849.1 469.2 L1846.1 466.2 L1842.4 464.4 L1841.8 460.2 L1839.8 456.5 L1841.8 452.8 L1842.4 448.6 L1846.1 446.8 L1849.1 443.8 L1853.2 444.5 L1857.3 443.8 L1860.3 446.8 L1864.0 448.6 L1864.6 452.8 Z" fill="#f5e0c8" stroke="#2c1b12" stroke-width="2.5" stroke-linejoin="round" stroke-linecap="round"/><circle cx="1853.2" cy="456.5" r="8.8" fill="#f5e0c8" stroke="#2c1b12" stroke-width="2.5" stroke-linejoin="round" stroke-linecap="round"/><circle cx="1853.2" cy="456.5" r="6" fill="#e9923e"/></g>
<g><path d="M1857.7 708 V673.6 a3.8 3.8 0 0 0 -3.8 -3.8 H1779.8 a3.8 3.8 0 0 0 -3.8 3.8 V779.5 a3.8 3.8 0 0 0 3.8 3.8 H1853.9 a3.8 3.8 0 0 0 3.8 -3.8 V764.2" fill="none" stroke="#2c1b12" stroke-width="2.6" stroke-linejoin="round" stroke-linecap="round"/><polyline points="1786.6,691.6 1792.4,696.9 1802,686.3" fill="none" stroke="#2c1b12" stroke-width="2.2" stroke-linecap="round" stroke-linejoin="round"/><polyline points="1786.6,714.8 1792.4,720.1 1802,709.5" fill="none" stroke="#2c1b12" stroke-width="2.2" stroke-linecap="round" stroke-linejoin="round"/><polyline points="1786.6,738.0 1792.4,743.3 1802,732.7" fill="none" stroke="#2c1b12" stroke-width="2.2" stroke-linecap="round" stroke-linejoin="round"/><polyline points="1786.6,761.2 1792.4,766.5 1802,755.9" fill="none" stroke="#2c1b12" stroke-width="2.2" stroke-linecap="round" stroke-linejoin="round"/><line x1="1811" y1="687.9" x2="1846" y2="687.9" stroke="#2c1b12" stroke-width="2.6" stroke-linecap="round"/><line x1="1811" y1="696.2" x2="1831.1" y2="696.2" stroke="#2c1b12" stroke-width="2.6" stroke-linecap="round"/><line x1="1811" y1="711" x2="1846" y2="711" stroke="#2c1b12" stroke-width="2.6" stroke-linecap="round"/><line x1="1811" y1="719.5" x2="1829" y2="719.5" stroke="#2c1b12" stroke-width="2.6" stroke-linecap="round"/><line x1="1811" y1="734.3" x2="1829.5" y2="734.3" stroke="#2c1b12" stroke-width="2.6" stroke-linecap="round"/><line x1="1811" y1="742.8" x2="1828.5" y2="742.8" stroke="#2c1b12" stroke-width="2.6" stroke-linecap="round"/><line x1="1811" y1="757.7" x2="1828" y2="757.7" stroke="#2c1b12" stroke-width="2.6" stroke-linecap="round"/><line x1="1811" y1="766.2" x2="1840.7" y2="766.2" stroke="#2c1b12" stroke-width="2.6" stroke-linecap="round"/><g transform="translate(1833.3 695.2) scale(0.604) translate(-453.3 -302)"><rect x="457.7" y="358.6" width="33.6" height="43.4" fill="#f6cda4" stroke="#2c1b12" stroke-width="3.0" stroke-linejoin="round" stroke-linecap="round"/><rect x="532.4" y="358.6" width="34" height="43.4" fill="#f6cda4" stroke="#2c1b12" stroke-width="3.0" stroke-linejoin="round" stroke-linecap="round"/><polygon points="453.3,358.6 464.7,341 487,341 491.3,358.6" fill="#ee9f5e" stroke="#2c1b12" stroke-width="3.0" stroke-linejoin="round" stroke-linecap="round"/><polygon points="532.4,358.6 536.5,341 558.4,341 570,358.6" fill="#ee9f5e" stroke="#2c1b12" stroke-width="3.0" stroke-linejoin="round" stroke-linecap="round"/><polygon points="491.3,402 491.3,345.4 511.6,327.7 532.4,345.4 532.4,402" fill="#fbe3c9" stroke="#2c1b12" stroke-width="3.0" stroke-linejoin="round" stroke-linecap="round"/><line x1="510.9" y1="322" x2="510.9" y2="303.6" stroke="#2c1b12" stroke-width="3.0" stroke-linejoin="round" stroke-linecap="round"/><rect x="510.9" y="303.6" width="14.8" height="10" fill="#f8d5b0" stroke="#2c1b12" stroke-width="3.0" stroke-linejoin="round" stroke-linecap="round"/><polyline points="486.6,343.6 511.6,322 536.8,343.6" fill="none" stroke="#2c1b12" stroke-width="9.6" stroke-linejoin="miter" stroke-linecap="round"/><polyline points="486.6,343.6 511.6,322 536.8,343.6" fill="none" stroke="#f7d3ae" stroke-width="3.4" stroke-linejoin="miter" stroke-linecap="round"/><circle cx="511.6" cy="353.3" r="11" fill="#fbe3c9" stroke="#2c1b12" stroke-width="3.0" stroke-linejoin="round" stroke-linecap="round"/><polyline points="511.6,346 511.6,353.6 515.4,357.4" fill="none" stroke="#2c1b12" stroke-width="3.0" stroke-linejoin="round" stroke-linecap="round"/><rect x="501" y="376.3" width="21.2" height="25.7" fill="#f1b27c" stroke="#2c1b12" stroke-width="3.0" stroke-linejoin="round" stroke-linecap="round"/><line x1="511.6" y1="376.3" x2="511.6" y2="402" stroke="#2c1b12" stroke-width="3.0" stroke-linejoin="round" stroke-linecap="round"/><rect x="463.4" y="368.4" width="7.6" height="8.6" fill="#fbe3c9" stroke="#2c1b12" stroke-width="3.0" stroke-linejoin="round" stroke-linecap="round"/><rect x="463.4" y="384.4" width="7.6" height="8.6" fill="#fbe3c9" stroke="#2c1b12" stroke-width="3.0" stroke-linejoin="round" stroke-linecap="round"/><rect x="476.7" y="368.4" width="7.6" height="8.6" fill="#fbe3c9" stroke="#2c1b12" stroke-width="3.0" stroke-linejoin="round" stroke-linecap="round"/><rect x="476.7" y="384.4" width="7.6" height="8.6" fill="#fbe3c9" stroke="#2c1b12" stroke-width="3.0" stroke-linejoin="round" stroke-linecap="round"/><rect x="537.9" y="368.4" width="7.6" height="8.6" fill="#fbe3c9" stroke="#2c1b12" stroke-width="3.0" stroke-linejoin="round" stroke-linecap="round"/><rect x="537.9" y="384.4" width="7.6" height="8.6" fill="#fbe3c9" stroke="#2c1b12" stroke-width="3.0" stroke-linejoin="round" stroke-linecap="round"/><rect x="551.2" y="368.4" width="7.6" height="8.6" fill="#fbe3c9" stroke="#2c1b12" stroke-width="3.0" stroke-linejoin="round" stroke-linecap="round"/><rect x="551.2" y="384.4" width="7.6" height="8.6" fill="#fbe3c9" stroke="#2c1b12" stroke-width="3.0" stroke-linejoin="round" stroke-linecap="round"/><rect x="453.3" y="402" width="116.7" height="6.6" fill="#fbe3c9" stroke="#2c1b12" stroke-width="3.0" stroke-linejoin="round" stroke-linecap="round"/></g></g>
<g><path d="M1094.7 898.5 C1100 900.5 1104 900.8 1109.5 899.7 L1121 908 L1147 928 C1149 931 1148 934.5 1144.6 936.2 C1144.6 939.5 1142 941.6 1139 941.4 C1138.6 944.6 1135.6 946.6 1132.6 945.8 C1131.5 949 1128 950.6 1124.8 949.4 C1122 952.6 1118 952.6 1115 950.4 L1084 926 L1081.2 927.3 Z" fill="#fbdcc0" stroke="#2a170c" stroke-width="2.5" stroke-linejoin="round" stroke-linecap="round"/><line x1="1126.5" y1="926.6" x2="1140.6" y2="936.5" stroke="#2a170c" stroke-width="2.5" stroke-linejoin="round" stroke-linecap="round"/><line x1="1121.5" y1="933.6" x2="1135" y2="942.8" stroke="#2a170c" stroke-width="2.5" stroke-linejoin="round" stroke-linecap="round"/><line x1="1118" y1="941.4" x2="1126.5" y2="947.1" stroke="#2a170c" stroke-width="2.5" stroke-linejoin="round" stroke-linecap="round"/><path d="M1139.2 898.3 C1135 899.6 1131.5 899.7 1128 898.6 C1124 896.8 1121 896.2 1118 897.4 C1113.5 899 1110.5 900 1107.5 901 L1099.8 909.6 C1098 912 1098.8 914.6 1101.4 915.6 C1104 916.4 1106.5 915 1108.6 913.6 L1119.4 908.9 L1147 928 L1150 922.5 Z" fill="#f2a356" stroke="#2a170c" stroke-width="2.5" stroke-linejoin="round" stroke-linecap="round"/><rect x="1083.6" y="928.0" width="14" height="7.2" rx="3.6" transform="rotate(52 1090.6 931.6)" fill="#fbdcc0" stroke="#2a170c" stroke-width="2.5" stroke-linejoin="round" stroke-linecap="round"/><rect x="1090.6" y="933.0" width="14" height="7.2" rx="3.6" transform="rotate(52 1097.6 936.6)" fill="#f2a356" stroke="#2a170c" stroke-width="2.5" stroke-linejoin="round" stroke-linecap="round"/><rect x="1097.0" y="937.9" width="14" height="7.2" rx="3.6" transform="rotate(52 1104 941.5)" fill="#f2a356" stroke="#2a170c" stroke-width="2.5" stroke-linejoin="round" stroke-linecap="round"/><rect x="1103.8" y="942.0" width="14" height="7.2" rx="3.6" transform="rotate(52 1110.8 945.6)" fill="#f2a356" stroke="#2a170c" stroke-width="2.5" stroke-linejoin="round" stroke-linecap="round"/><polygon points="1072,885.2 1094.7,896.2 1081.2,927.3 1071.7,922.3" fill="#f2a356"/><polyline points="1072,885.2 1094.7,896.2 1081.2,927.3 1071.7,922.3" fill="none" stroke="#2a170c" stroke-width="2.5" stroke-linejoin="round" stroke-linecap="round"/><polygon points="1161.1,885.2 1139.2,895.8 1152.6,927.3 1162.2,922.3" fill="#f2a356"/><polyline points="1161.1,885.2 1139.2,895.8 1152.6,927.3 1162.2,922.3" fill="none" stroke="#2a170c" stroke-width="2.5" stroke-linejoin="round" stroke-linecap="round"/></g>
<g><path d="M1349.3 1069 V1031.3 L1331.2 1013.8 H1268.6 a3 3 0 0 0 -3 3 V1122.2 a3 3 0 0 0 3 3 H1346.3 a3 3 0 0 0 3 -3 V1099" fill="#fbe2ca" fill-opacity="0.55" stroke="#2c1b12" stroke-width="2.7" stroke-linejoin="round" stroke-linecap="round"/><path d="M1331.2 1013.8 V1028.3 a3 3 0 0 0 3 3 H1349.3 Z" fill="#f2ac68" stroke="#2c1b12" stroke-width="2.7" stroke-linejoin="round" stroke-linecap="round"/><circle cx="1307.5" cy="1029" r="5.4" fill="#f2ac68" stroke="#2c1b12" stroke-width="2.7" stroke-linejoin="round" stroke-linecap="round"/><path d="M1296.7 1047.1 a10.8 10.4 0 0 1 21.6 0" fill="#f2ac68" stroke="#2c1b12" stroke-width="2.7" stroke-linejoin="round" stroke-linecap="round"/><line x1="1285.4" y1="1056.7" x2="1338" y2="1056.7" stroke="#2c1b12" stroke-width="2.8" stroke-linecap="round"/><line x1="1276.9" y1="1064.1" x2="1338" y2="1064.1" stroke="#2c1b12" stroke-width="2.8" stroke-linecap="round"/><line x1="1276.9" y1="1071.2" x2="1338" y2="1071.2" stroke="#2c1b12" stroke-width="2.8" stroke-linecap="round"/><line x1="1276.9" y1="1078.5" x2="1338" y2="1078.5" stroke="#2c1b12" stroke-width="2.8" stroke-linecap="round"/><line x1="1276.9" y1="1086.2" x2="1314.3" y2="1086.2" stroke="#2c1b12" stroke-width="2.8" stroke-linecap="round"/><circle cx="1287.1" cy="1105.4" r="10.2" fill="#fbe2ca" stroke="#2c1b12" stroke-width="2.7" stroke-linejoin="round" stroke-linecap="round"/><circle cx="1287.1" cy="1105.4" r="5.8" fill="#f2ac68" stroke="#2c1b12" stroke-width="2.7" stroke-linejoin="round" stroke-linecap="round"/><path d="M1309.2 1108.8 C1312 1105 1314 1099.5 1315.6 1098.8 C1317.4 1098.6 1316 1105.6 1317.6 1106.5 C1319 1107 1320 1104.6 1321.4 1105 C1322.6 1105.6 1322 1107.8 1323.6 1107.6 L1331.2 1106" fill="none" stroke="#2c1b12" stroke-width="1.8" stroke-linecap="round" stroke-linejoin="round"/><line x1="1304.6" y1="1113.9" x2="1337.4" y2="1113.3" stroke="#2c1b12" stroke-width="2.2" stroke-linecap="round"/><g transform="translate(1336.3 1106.5) rotate(-60.79)"><path d="M65.7 4.9 C65.7 8.7 62.7 8.7 60.4 8.7 H40.5" fill="none" stroke="#2c1b12" stroke-width="2.3" stroke-linejoin="round" stroke-linecap="round"/><path d="M70.3 -3.0 H73.5 a3.0 3.0 0 0 1 0 6.1 H70.3 Z" fill="#f7d6b6" stroke="#2c1b12" stroke-width="2.3" stroke-linejoin="round" stroke-linecap="round"/><rect x="65.7" y="-4.0" width="4.6" height="8.0" fill="#f2ac68" stroke="#2c1b12" stroke-width="2.3" stroke-linejoin="round" stroke-linecap="round"/><rect x="13.0" y="-4.9" width="52.7" height="9.8" fill="#f2ac68" stroke="#2c1b12" stroke-width="2.3" stroke-linejoin="round" stroke-linecap="round"/><line x1="38.2" y1="-4.9" x2="38.2" y2="4.9" stroke="#2c1b12" stroke-width="2.3" stroke-linejoin="round" stroke-linecap="round"/><path d="M13.0 -4.9 L0 0 L13.0 4.9 Z" fill="#fdf3e8" stroke="#2c1b12" stroke-width="2.3" stroke-linejoin="round" stroke-linecap="round"/><path d="M4.9 -1.9 L0 0 L4.9 1.9 Z" fill="#2c1b12" stroke="none"/></g></g>
<g><path d="M1904.4 1029 V993.4 a3.5 3.5 0 0 0 -3.5 -3.5 H1823.7 a3.5 3.5 0 0 0 -3.5 3.5 V1098.7 a3.5 3.5 0 0 0 3.5 3.5 H1900.9 a3.5 3.5 0 0 0 3.5 -3.5 V1086" fill="none" stroke="#2c1b12" stroke-width="2.7" stroke-linejoin="round" stroke-linecap="round"/><g transform="translate(1839.5 994.6) scale(0.3865) translate(-453.3 -302)"><rect x="457.7" y="358.6" width="33.6" height="43.4" fill="#f6cda4" stroke="#2c1b12" stroke-width="3.6" stroke-linejoin="round" stroke-linecap="round"/><rect x="532.4" y="358.6" width="34" height="43.4" fill="#f6cda4" stroke="#2c1b12" stroke-width="3.6" stroke-linejoin="round" stroke-linecap="round"/><polygon points="453.3,358.6 464.7,341 487,341 491.3,358.6" fill="#ee9f5e" stroke="#2c1b12" stroke-width="3.6" stroke-linejoin="round" stroke-linecap="round"/><polygon points="532.4,358.6 536.5,341 558.4,341 570,358.6" fill="#ee9f5e" stroke="#2c1b12" stroke-width="3.6" stroke-linejoin="round" stroke-linecap="round"/><polygon points="491.3,402 491.3,345.4 511.6,327.7 532.4,345.4 532.4,402" fill="#fbe3c9" stroke="#2c1b12" stroke-width="3.6" stroke-linejoin="round" stroke-linecap="round"/><line x1="510.9" y1="322" x2="510.9" y2="303.6" stroke="#2c1b12" stroke-width="3.6" stroke-linejoin="round" stroke-linecap="round"/><rect x="510.9" y="303.6" width="14.8" height="10" fill="#f8d5b0" stroke="#2c1b12" stroke-width="3.6" stroke-linejoin="round" stroke-linecap="round"/><polyline points="486.6,343.6 511.6,322 536.8,343.6" fill="none" stroke="#2c1b12" stroke-width="10.8" stroke-linejoin="miter" stroke-linecap="round"/><polyline points="486.6,343.6 511.6,322 536.8,343.6" fill="none" stroke="#f7d3ae" stroke-width="3.4" stroke-linejoin="miter" stroke-linecap="round"/><circle cx="511.6" cy="353.3" r="11" fill="#fbe3c9" stroke="#2c1b12" stroke-width="3.6" stroke-linejoin="round" stroke-linecap="round"/><polyline points="511.6,346 511.6,353.6 515.4,357.4" fill="none" stroke="#2c1b12" stroke-width="3.6" stroke-linejoin="round" stroke-linecap="round"/><rect x="501" y="376.3" width="21.2" height="25.7" fill="#f1b27c" stroke="#2c1b12" stroke-width="3.6" stroke-linejoin="round" stroke-linecap="round"/><line x1="511.6" y1="376.3" x2="511.6" y2="402" stroke="#2c1b12" stroke-width="3.6" stroke-linejoin="round" stroke-linecap="round"/><rect x="463.4" y="368.4" width="7.6" height="8.6" fill="#fbe3c9" stroke="#2c1b12" stroke-width="3.6" stroke-linejoin="round" stroke-linecap="round"/><rect x="463.4" y="384.4" width="7.6" height="8.6" fill="#fbe3c9" stroke="#2c1b12" stroke-width="3.6" stroke-linejoin="round" stroke-linecap="round"/><rect x="476.7" y="368.4" width="7.6" height="8.6" fill="#fbe3c9" stroke="#2c1b12" stroke-width="3.6" stroke-linejoin="round" stroke-linecap="round"/><rect x="476.7" y="384.4" width="7.6" height="8.6" fill="#fbe3c9" stroke="#2c1b12" stroke-width="3.6" stroke-linejoin="round" stroke-linecap="round"/><rect x="537.9" y="368.4" width="7.6" height="8.6" fill="#fbe3c9" stroke="#2c1b12" stroke-width="3.6" stroke-linejoin="round" stroke-linecap="round"/><rect x="537.9" y="384.4" width="7.6" height="8.6" fill="#fbe3c9" stroke="#2c1b12" stroke-width="3.6" stroke-linejoin="round" stroke-linecap="round"/><rect x="551.2" y="368.4" width="7.6" height="8.6" fill="#fbe3c9" stroke="#2c1b12" stroke-width="3.6" stroke-linejoin="round" stroke-linecap="round"/><rect x="551.2" y="384.4" width="7.6" height="8.6" fill="#fbe3c9" stroke="#2c1b12" stroke-width="3.6" stroke-linejoin="round" stroke-linecap="round"/><rect x="453.3" y="402" width="116.7" height="6.6" fill="#fbe3c9" stroke="#2c1b12" stroke-width="3.6" stroke-linejoin="round" stroke-linecap="round"/></g><path d="M1842.5 1046.5 V1053.2 H1829.6 V1039.9 H1838.5" fill="none" stroke="#2c1b12" stroke-width="2.4" stroke-linejoin="miter" stroke-linecap="butt"/><polyline points="1833.2,1045.6 1836.8,1049.8 1844.6,1039.4" fill="none" stroke="#2c1b12" stroke-width="2.4" stroke-linecap="round" stroke-linejoin="round"/><path d="M1842.5 1066.3 V1073.0 H1829.6 V1059.7 H1838.5" fill="none" stroke="#2c1b12" stroke-width="2.4" stroke-linejoin="miter" stroke-linecap="butt"/><polyline points="1833.2,1065.4 1836.8,1069.6 1844.6,1059.2" fill="none" stroke="#2c1b12" stroke-width="2.4" stroke-linecap="round" stroke-linejoin="round"/><path d="M1842.5 1086.1 V1092.8 H1829.6 V1079.5 H1838.5" fill="none" stroke="#2c1b12" stroke-width="2.4" stroke-linejoin="miter" stroke-linecap="butt"/><polyline points="1833.2,1085.2 1836.8,1089.4 1844.6,1079.0" fill="none" stroke="#2c1b12" stroke-width="2.4" stroke-linecap="round" stroke-linejoin="round"/><line x1="1850.4" y1="1042.8" x2="1884.1" y2="1042.8" stroke="#2c1b12" stroke-width="2.5" stroke-linecap="round"/><line x1="1850.4" y1="1050" x2="1874.7" y2="1050" stroke="#2c1b12" stroke-width="2.5" stroke-linecap="round"/><line x1="1850.4" y1="1062.6" x2="1877.1" y2="1062.6" stroke="#2c1b12" stroke-width="2.5" stroke-linecap="round"/><line x1="1850.4" y1="1069.6" x2="1875.1" y2="1069.6" stroke="#2c1b12" stroke-width="2.5" stroke-linecap="round"/><line x1="1850.4" y1="1082.2" x2="1886" y2="1082.2" stroke="#2c1b12" stroke-width="2.5" stroke-linecap="round"/><line x1="1850.4" y1="1088.9" x2="1874.7" y2="1088.9" stroke="#2c1b12" stroke-width="2.5" stroke-linecap="round"/><defs><linearGradient id="gck" x1="0" y1="0" x2="1" y2="1"><stop offset="0" stop-color="#f6bd80"/><stop offset="1" stop-color="#ee9c4a"/></linearGradient></defs><circle cx="1907.3" cy="1058.2" r="28" fill="#fdebd8"/><circle cx="1907.3" cy="1058.2" r="25.4" fill="url(#gck)" stroke="#2c1b12" stroke-width="2.7" stroke-linejoin="round" stroke-linecap="round"/><polyline points="1893.4,1059.4 1902.9,1068.8 1920.5,1048.6" fill="none" stroke="#2c1b12" stroke-width="7.6" stroke-linecap="round" stroke-linejoin="round"/><polyline points="1893.4,1059.4 1902.9,1068.8 1920.5,1048.6" fill="none" stroke="#f4b475" stroke-width="3.2" stroke-linecap="round" stroke-linejoin="round"/></g>
<g fill="none" stroke="#1a120c" stroke-width="1.75" stroke-linecap="butt"><path d="M1855.1 1192.9 V1188.2 A8.3 8.3 0 0 1 1871.7 1188.2 V1192.9"/><path d="M1855.1 1190.5 A6.4 6.4 0 0 1 1867.9 1190.5 V1192.9"/><path d="M1855.1 1192.6 A4.25 4.25 0 0 1 1863.6 1192.6 V1192.9"/></g>
<g><polygon points="72,56.2 127,31 129.5,77.5 145,84.5 139.5,86 121.5,80 122.5,105 66.2,113" fill="none" stroke="#7b98cf" stroke-width="1.1" stroke-linejoin="round"/><polyline points="127,31 142.5,47.5 145,84.5" fill="none" stroke="#7b98cf" stroke-width="1.1" stroke-linejoin="round"/><polyline points="66.2,113 177,98.5" fill="none" stroke="#7b98cf" stroke-width="1.1" stroke-linejoin="round"/><polyline points="121.5,80 128.5,79 145,84.5" fill="none" stroke="#7b98cf" stroke-width="1.1" stroke-linejoin="round"/><polyline points="139.5,86 139.5,103" fill="none" stroke="#7b98cf" stroke-width="1.1" stroke-linejoin="round"/><polyline points="143.5,85.4 144,102.6" fill="none" stroke="#7b98cf" stroke-width="1.1" stroke-linejoin="round"/><polyline points="112.5,106.5 116,72.5 150.5,56.5 160,66 161.5,90" fill="none" stroke="#7b98cf" stroke-width="1.1" stroke-linejoin="round"/><polyline points="150.5,56.5 152,87.5" fill="none" stroke="#7b98cf" stroke-width="1.1" stroke-linejoin="round"/><polyline points="147.5,102.4 147.5,87.6 152.5,86.6 161.5,90 157.5,91.2 147.5,87.6" fill="none" stroke="#7b98cf" stroke-width="1.1" stroke-linejoin="round"/><polyline points="157.5,91.2 157.5,101" fill="none" stroke="#7b98cf" stroke-width="1.1" stroke-linejoin="round"/><polyline points="160.6,90.4 160.8,100.6" fill="none" stroke="#7b98cf" stroke-width="1.1" stroke-linejoin="round"/><polyline points="146,83 164.5,74 170.5,80 171,93" fill="none" stroke="#7b98cf" stroke-width="1.1" stroke-linejoin="round"/><polyline points="164.5,74 165,92.4" fill="none" stroke="#7b98cf" stroke-width="1.1" stroke-linejoin="round"/><polyline points="162.8,100.4 162.8,92.6 165.4,92 171,93.6 168.4,94.4 162.8,92.6" fill="none" stroke="#7b98cf" stroke-width="1.1" stroke-linejoin="round"/><polyline points="168.4,94.4 168.4,99.6" fill="none" stroke="#7b98cf" stroke-width="1.1" stroke-linejoin="round"/><polyline points="166,88 173,84 176.5,88 176.8,95.4" fill="none" stroke="#7b98cf" stroke-width="1.1" stroke-linejoin="round"/><polyline points="173,84 173.2,94.6" fill="none" stroke="#7b98cf" stroke-width="1.1" stroke-linejoin="round"/><polyline points="172,99.2 172,94.8 173.4,94.4 176.8,95.4 175.2,96 172,94.8" fill="none" stroke="#7b98cf" stroke-width="1.1" stroke-linejoin="round"/><line x1="66" y1="131.5" x2="177" y2="131.5" stroke="#7aa3d6" stroke-width="1.4"/></g>
<text x="174.5" y="204.5" font-size="65" fill="#1b2f55" class="b" textLength="310.5" lengthAdjust="spacingAndGlyphs" stroke="#1b2f55" stroke-width="1.8" stroke-linejoin="round">Calendari</text>
<text x="510.0" y="204.5" font-size="65" fill="#1b2f55" class="b" textLength="75.0" lengthAdjust="spacingAndGlyphs" stroke="#1b2f55" stroke-width="1.8" stroke-linejoin="round">de</text>
<text x="612.5" y="204.5" font-size="65" fill="#1b2f55" class="b" textLength="426.5" lengthAdjust="spacingAndGlyphs" stroke="#1b2f55" stroke-width="1.8" stroke-linejoin="round">Preinscripció</text>
<text x="1062.5" y="204.5" font-size="65" fill="#1b2f55" class="b" textLength="12.5" lengthAdjust="spacingAndGlyphs" stroke="#1b2f55" stroke-width="1.8" stroke-linejoin="round">i</text>
<text x="1101.0" y="204.5" font-size="65" fill="#1b2f55" class="b" textLength="302.0" lengthAdjust="spacingAndGlyphs" stroke="#1b2f55" stroke-width="1.8" stroke-linejoin="round">Matrícula</text>
<text x="1432.0" y="204.5" font-size="65" fill="#1b2f55" class="b" textLength="233.3" lengthAdjust="spacingAndGlyphs" stroke="#1b2f55" stroke-width="1.8" stroke-linejoin="round">Escolar</text>
<text x="1685.0" y="204.5" font-size="65" fill="#1b2f55" class="b" textLength="154.0" lengthAdjust="spacingAndGlyphs" stroke="#1b2f55" stroke-width="1.8" stroke-linejoin="round">2026</text>
<text x="283.7" y="255.0" font-size="29" fill="#1e1e1e" textLength="1281.3" lengthAdjust="spacingAndGlyphs" stroke="#1e1e1e" stroke-width="0.3">Cronologia clara i senzilla dels passos i dates clau per al procés d'admissió escolar del curs</text>
<text x="1574.0" y="255.0" font-size="29" fill="#1e1e1e" class="b" textLength="153.0" lengthAdjust="spacingAndGlyphs" stroke="#1e1e1e" stroke-width="0.7">2026-2027.</text>
<text x="594.0" y="340.0" font-size="27.2" fill="#3c9bb0" class="b" textLength="327.6" lengthAdjust="spacingAndGlyphs" stroke="#3c9bb0" stroke-width="0.7">FASE 1: PRESENTACIÓ</text>
<text x="594.0" y="373.0" font-size="27.2" fill="#3c9bb0" class="b" textLength="201.0" lengthAdjust="spacingAndGlyphs" stroke="#3c9bb0" stroke-width="0.7">I PUNTUACIÓ</text>
<text x="594.0" y="411.0" font-size="27.2" fill="#1b2023" textLength="226.5" lengthAdjust="spacingAndGlyphs" stroke="#1b2023" stroke-width="0.3">(MARÇ - ABRIL)</text>
<text x="1247.6" y="340.0" font-size="27.2" fill="#e8923d" class="b" textLength="412.0" lengthAdjust="spacingAndGlyphs" stroke="#e8923d" stroke-width="0.7">FASE 2: ASSIGNACIÓ FINAL</text>
<text x="1247.6" y="373.0" font-size="27.2" fill="#e8923d" class="b" textLength="197.4" lengthAdjust="spacingAndGlyphs" stroke="#e8923d" stroke-width="0.7">I MATRÍCULA</text>
<text x="1247.6" y="411.0" font-size="27.2" fill="#281d16" textLength="203.0" lengthAdjust="spacingAndGlyphs" stroke="#281d16" stroke-width="0.3">(MAIG - JUNY)</text>
<text x="316.7" y="465.0" font-size="30.5" fill="#1b2023" class="b" textLength="148.3" lengthAdjust="spacingAndGlyphs" stroke="#1b2023" stroke-width="0.7">3 de març</text>
<text x="260.0" y="492.0" font-size="21" fill="#1b2023" class="b" textLength="205.0" lengthAdjust="spacingAndGlyphs" stroke="#1b2023" stroke-width="0.7">Publicació de l'oferta</text>
<text x="310.0" y="514.7" font-size="21" fill="#1b2023" class="b" textLength="155.0" lengthAdjust="spacingAndGlyphs" stroke="#1b2023" stroke-width="0.7">inicial de places</text>
<text x="560.4" y="525.5" font-size="26" fill="#1b2023" class="b" textLength="322.0" lengthAdjust="spacingAndGlyphs" stroke="#1b2023" stroke-width="0.7">Presentació de sol·licituds</text>
<text x="560.7" y="568.2" font-size="34.6" fill="#1b2023" class="b" textLength="255.3" lengthAdjust="spacingAndGlyphs" stroke="#1b2023" stroke-width="0.7">4 al 18 de març</text>
<text x="560.7" y="600.8" font-size="20.8" fill="#1b2023" textLength="224.3" lengthAdjust="spacingAndGlyphs" stroke="#1b2023" stroke-width="0.3">Inclou educació infantil,</text>
<text x="560.7" y="623.3" font-size="20.8" fill="#1b2023" textLength="133.1" lengthAdjust="spacingAndGlyphs" stroke="#1b2023" stroke-width="0.3">primaria i ESO</text>
<text x="560.7" y="646.0" font-size="20.8" fill="#1b2023" textLength="370.7" lengthAdjust="spacingAndGlyphs" stroke="#1b2023" stroke-width="0.3">(aquesta última comença el 6 de març).</text>
<text x="562.0" y="692.0" font-size="30.5" fill="#1b2023" class="b" textLength="160.0" lengthAdjust="spacingAndGlyphs" stroke="#1b2023" stroke-width="0.7">19 de març</text>
<text x="562.0" y="720.0" font-size="21" fill="#1b2023" class="b" textLength="236.7" lengthAdjust="spacingAndGlyphs" stroke="#1b2023" stroke-width="0.7">Data limit per presentar</text>
<text x="562.0" y="741.7" font-size="21" fill="#1b2023" class="b" textLength="143.0" lengthAdjust="spacingAndGlyphs" stroke="#1b2023" stroke-width="0.7">documentació</text>
<text x="197.0" y="764.5" font-size="27" fill="#1b2023" class="b" textLength="268.0" lengthAdjust="spacingAndGlyphs" stroke="#1b2023" stroke-width="0.7">Puntuació provisional</text>
<text x="287.0" y="792.4" font-size="27" fill="#1b2023" class="b" textLength="178.0" lengthAdjust="spacingAndGlyphs" stroke="#1b2023" stroke-width="0.7">i reclamacions</text>
<text x="335.6" y="833.0" font-size="32.5" fill="#1b2023" class="b" textLength="129.4" lengthAdjust="spacingAndGlyphs" stroke="#1b2023" stroke-width="0.7">15 d’abril</text>
<text x="259.0" y="861.2" font-size="20.8" fill="#1b2023" textLength="206.0" lengthAdjust="spacingAndGlyphs" stroke="#1b2023" stroke-width="0.3">La llista es publica i hi</text>
<text x="250.5" y="883.0" font-size="20.8" fill="#1b2023" textLength="214.5" lengthAdjust="spacingAndGlyphs" stroke="#1b2023" stroke-width="0.3">ha 5 dies por reclamar.</text>
<text x="562.0" y="900.0" font-size="30.5" fill="#1b2023" class="b" textLength="135.7" lengthAdjust="spacingAndGlyphs" stroke="#1b2023" stroke-width="0.7">23 d’abril</text>
<text x="562.0" y="928.0" font-size="21" fill="#1b2023" class="b" textLength="334.0" lengthAdjust="spacingAndGlyphs" stroke="#1b2023" stroke-width="0.7">Publicació de la puntuació un cop</text>
<text x="562.0" y="949.4" font-size="21" fill="#1b2023" class="b" textLength="247.5" lengthAdjust="spacingAndGlyphs" stroke="#1b2023" stroke-width="0.7">resoltes les reclamacions</text>
<text x="207.5" y="989.0" font-size="27" fill="#1b2023" class="b" textLength="257.5" lengthAdjust="spacingAndGlyphs" stroke="#1b2023" stroke-width="0.7">Sorteig de desempat</text>
<text x="268.6" y="1017.0" font-size="27" fill="#1b2023" class="b" textLength="196.4" lengthAdjust="spacingAndGlyphs" stroke="#1b2023" stroke-width="0.7">i llista ordenada</text>
<text x="328.0" y="1057.8" font-size="32.5" fill="#1b2023" class="b" textLength="137.0" lengthAdjust="spacingAndGlyphs" stroke="#1b2023" stroke-width="0.7">28 d’abril</text>
<text x="226.0" y="1085.7" font-size="20.8" fill="#1b2023" textLength="239.0" lengthAdjust="spacingAndGlyphs" stroke="#1b2023" stroke-width="0.3">El sorteig es farà i la llista</text>
<text x="259.0" y="1108.0" font-size="20.8" fill="#1b2023" textLength="206.0" lengthAdjust="spacingAndGlyphs" stroke="#1b2023" stroke-width="0.3">final sortirà l’endemà.</text>
<text x="1550.5" y="473.0" font-size="30.5" fill="#281d16" class="b" textLength="200.3" lengthAdjust="spacingAndGlyphs" stroke="#281d16" stroke-width="0.7">13-14 de maig</text>
<text x="1550.5" y="501.0" font-size="21" fill="#281d16" class="b" textLength="283.5" lengthAdjust="spacingAndGlyphs" stroke="#281d16" stroke-width="0.7">Ampllació de peticions per a</text>
<text x="1550.5" y="522.6" font-size="21" fill="#281d16" class="b" textLength="305.0" lengthAdjust="spacingAndGlyphs" stroke="#281d16" stroke-width="0.7">necessitats socioeconomiques</text>
<text x="1550.5" y="572.8" font-size="30.5" fill="#281d16" class="b" textLength="159.0" lengthAdjust="spacingAndGlyphs" stroke="#281d16" stroke-width="0.7">1-3 de juny</text>
<text x="1550.5" y="600.0" font-size="21" fill="#281d16" class="b" textLength="283.5" lengthAdjust="spacingAndGlyphs" stroke="#281d16" stroke-width="0.7">Ampilació de peticions per a</text>
<text x="1550.5" y="622.0" font-size="21" fill="#281d16" class="b" textLength="276.5" lengthAdjust="spacingAndGlyphs" stroke="#281d16" stroke-width="0.7">sol·licituds sense assignació</text>
<text x="1070.0" y="649.5" font-size="27" fill="#281d16" class="b" textLength="382.4" lengthAdjust="spacingAndGlyphs" stroke="#281d16" stroke-width="0.7">Publicació de llistes d’admesos</text>
<text x="1280.7" y="691.6" font-size="33.8" fill="#281d16" class="b" textLength="172.2" lengthAdjust="spacingAndGlyphs" stroke="#281d16" stroke-width="0.7">10 de juny</text>
<text x="1111.2" y="725.3" font-size="20.8" fill="#281d16" textLength="340.4" lengthAdjust="spacingAndGlyphs" stroke="#281d16" stroke-width="0.3">Es publica l'oferta final de places i la</text>
<text x="1094.5" y="747.8" font-size="20.8" fill="#281d16" textLength="355.0" lengthAdjust="spacingAndGlyphs" stroke="#281d16" stroke-width="0.3">llista d'alumnes amb plaça assignada.</text>
<text x="1550.5" y="792.6" font-size="30.5" fill="#281d16" class="b" textLength="189.0" lengthAdjust="spacingAndGlyphs" stroke="#281d16" stroke-width="0.7">10-12 de juny</text>
<text x="1550.5" y="820.5" font-size="21" fill="#281d16" class="b" textLength="360.0" lengthAdjust="spacingAndGlyphs" stroke="#281d16" stroke-width="0.7">Reclamacions a les llistes d’alumnes</text>
<text x="1550.5" y="843.0" font-size="21" fill="#281d16" class="b" textLength="208.5" lengthAdjust="spacingAndGlyphs" stroke="#281d16" stroke-width="0.7">amb plaça assignada</text>
<text x="1197.0" y="893.0" font-size="27" fill="#281d16" class="b" textLength="254.5" lengthAdjust="spacingAndGlyphs" stroke="#281d16" stroke-width="0.7">Període de Matrícula</text>
<text x="1186.0" y="936.0" font-size="34" fill="#281d16" class="b" textLength="265.5" lengthAdjust="spacingAndGlyphs" stroke="#281d16" stroke-width="0.7">22 al 30 de juny</text>
<text x="1131.0" y="974.8" font-size="20.8" fill="#281d16" class="b" textLength="173.5" lengthAdjust="spacingAndGlyphs" stroke="#281d16" stroke-width="0.7">Termini obligatori</text>
<text x="1312.6" y="974.8" font-size="20.8" fill="#281d16" textLength="138.2" lengthAdjust="spacingAndGlyphs" stroke="#281d16" stroke-width="0.3">per formalitzar</text>
<text x="1110.0" y="997.0" font-size="20.8" fill="#281d16" textLength="339.5" lengthAdjust="spacingAndGlyphs" stroke="#281d16" stroke-width="0.3">la plaça obtinguda durant el procés.</text>
<text x="1552.8" y="1078.5" font-size="31" fill="#281d16" class="b" textLength="233.0" lengthAdjust="spacingAndGlyphs" stroke="#281d16" stroke-width="0.7">30 de setembre</text>
<text x="1552.8" y="1106.4" font-size="21" fill="#281d16" class="b" textLength="222.7" lengthAdjust="spacingAndGlyphs" stroke="#281d16" stroke-width="0.7">Tancament del procés:</text>
<text x="1552.8" y="1128.0" font-size="21" fill="#281d16" class="b" textLength="303.7" lengthAdjust="spacingAndGlyphs" stroke="#281d16" stroke-width="0.7">Publicació de la llista definitiva</text>
<text x="1552.8" y="1150.5" font-size="21" fill="#281d16" class="b" textLength="222.7" lengthAdjust="spacingAndGlyphs" stroke="#281d16" stroke-width="0.7">d’alumnes matriculats.</text>
<text x="158.5" y="1036.4" font-size="8.6" class="b" fill="#14343e" stroke="#14343e" stroke-width="0.3" textLength="49" lengthAdjust="spacingAndGlyphs" transform="rotate(-7.2 158.5 1036.4)">TUNKOAZ</text>
<text x="1881.0" y="1192.9" font-size="18.4" fill="#1a120c" textLength="110.0" lengthAdjust="spacingAndGlyphs" stroke="#1a120c" stroke-width="0.45">NotebookLM</text>
<text x="124.0" y="126.5" font-size="23" fill="#7aa3d6" class="b" textLength="52.0" lengthAdjust="spacingAndGlyphs" stroke="#7aa3d6" stroke-width="1.9" stroke-linejoin="round">ESBC</text>
<text x="1311.0" y="1322.4" font-size="42" fill="#0c49ad" class="b" textLength="173.3" lengthAdjust="spacingAndGlyphs" stroke="#0c49ad" stroke-width="2.2" stroke-linejoin="round">ESCOLA</text>
<text x="1498.6" y="1322.4" font-size="42" fill="#0c49ad" class="b" textLength="61.8" lengthAdjust="spacingAndGlyphs" stroke="#0c49ad" stroke-width="2.2" stroke-linejoin="round">ST.</text>
<text x="1585.7" y="1322.4" font-size="42" fill="#0c49ad" class="b" textLength="159.3" lengthAdjust="spacingAndGlyphs" stroke="#0c49ad" stroke-width="2.2" stroke-linejoin="round">BERNAT</text>
<text x="1766.0" y="1322.4" font-size="42" fill="#0c49ad" class="b" textLength="146.4" lengthAdjust="spacingAndGlyphs" stroke="#0c49ad" stroke-width="2.2" stroke-linejoin="round">CALVÓ</text>
</svg>
</body>
</html>
